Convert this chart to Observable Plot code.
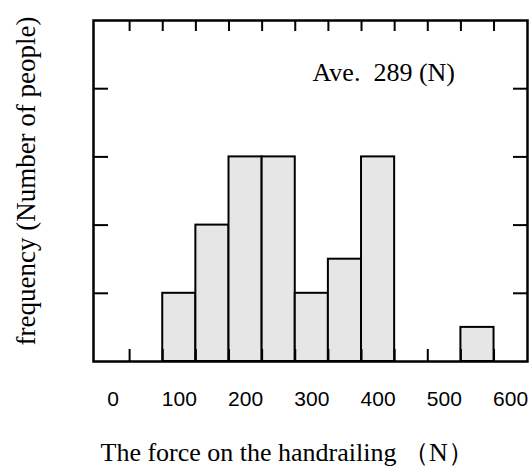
<!DOCTYPE html>
<html>
<head>
<meta charset="utf-8">
<script src="https://cdn.jsdelivr.net/npm/d3@7"></script>
<script src="https://cdn.jsdelivr.net/npm/@observablehq/plot@0.6"></script>
<style>
  html, body { margin: 0; padding: 0; background: #fff; }
  svg { display: block; }
</style>
</head>
<body>
<div id="chart"></div>
<script>
// Histogram bins (N) and counts (number of people)
const binStart = [75, 125, 175, 225, 275, 325, 375, 525];
const binEnd   = [125, 175, 225, 275, 325, 375, 425, 575];
const counts   = [2, 4, 6, 6, 2, 3, 6, 1];

const xTickLabels = [0, 100, 200, 300, 400, 500, 600];
const xMinorTicks = [25, 75, 125, 175, 225, 275, 325, 375, 425, 475, 525, 575];
const yTicks = [2, 4, 6, 8];

const xTitle = "The force on the handrailing （N）";
const yTitle = "frequency (Number of people)";
const note = "Ave.\u00a0 289 (N)";

const bars = binStart.map((s, i) => ({x1: s, x2: binEnd[i], count: counts[i]}));

const serif = "'Liberation Serif', 'Times New Roman', serif";
const sans = "'Liberation Sans', Arial, sans-serif";

const chart = Plot.plot({
  width: 529,
  height: 469,
  marginLeft: 93,
  marginRight: 2,
  marginTop: 20,
  marginBottom: 108,
  x: {domain: [-29.5, 625.5]},
  y: {domain: [0, 10]},
  marks: [
    Plot.rectY(bars, {x1: "x1", x2: "x2", y: "count", fill: "#e6e6e6", stroke: "#000", strokeWidth: 2}),
    // inward ticks
    Plot.axisY(yTicks, {anchor: "left", tickSize: -15, tickFormat: () => "", label: null, strokeWidth: 2, stroke: "#000"}),
    Plot.axisY(yTicks, {anchor: "right", tickSize: -15, tickFormat: () => "", label: null, strokeWidth: 2, stroke: "#000"}),
    Plot.axisX(xMinorTicks, {anchor: "top", tickSize: -10, tickFormat: () => "", label: null, strokeWidth: 2, stroke: "#000"}),
    Plot.axisX(xMinorTicks, {anchor: "bottom", tickSize: -12, tickFormat: () => "", label: null, strokeWidth: 2, stroke: "#000"}),
    // tick labels
    Plot.axisX(xTickLabels, {anchor: "bottom", tickSize: 0, tickPadding: 30, label: null, fontSize: 21, fontFamily: sans, fill: "#000", tickFormat: d => String(d)}),
    Plot.frame({stroke: "#000", strokeWidth: 2.5}),
    Plot.text([note], {frameAnchor: "top-left", dx: 219, dy: 60, textAnchor: "start", lineAnchor: "bottom", fontSize: 26, fontFamily: serif, fill: "#000"}),
    Plot.text([xTitle], {frameAnchor: "bottom-left", dx: 7, dy: 99, textAnchor: "start", lineAnchor: "bottom", fontSize: 26, fontFamily: serif, fill: "#000"}),
    Plot.text([yTitle], {frameAnchor: "left", dx: -67, dy: -10, rotate: -90, textAnchor: "middle", lineAnchor: "middle", fontSize: 27, fontFamily: serif, fill: "#000"})
  ]
});
document.getElementById("chart").appendChild(chart);
</script>
</body>
</html>
